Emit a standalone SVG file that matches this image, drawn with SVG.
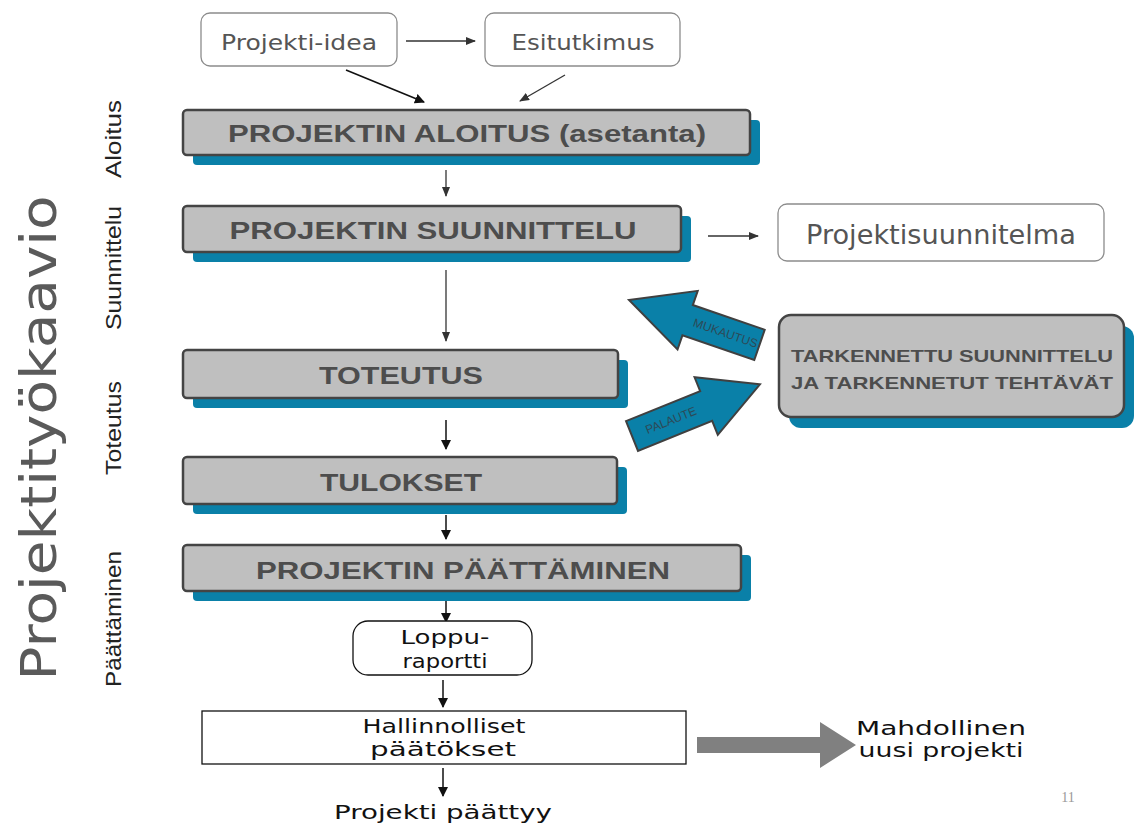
<svg xmlns="http://www.w3.org/2000/svg" width="1135" height="825" viewBox="0 0 1135 825">
<style>
.bg{fill:#ffffff}
.box{fill:#bfbfbf;stroke:#444;stroke-width:2.5}
.sh{fill:#0a80a8}
.bt{font-family:"Liberation Sans",Arial,sans-serif;font-weight:bold;fill:#4d4d4d;text-anchor:middle}
.wb{fill:#fff;stroke:#8c8c8c;stroke-width:1.3}
.wt{font-family:"DejaVu Sans","Liberation Sans",sans-serif;fill:#555;text-anchor:middle}
.ct{font-family:"DejaVu Sans","Liberation Sans",sans-serif;fill:#111;text-anchor:middle;font-size:19px}
.side{font-family:"Liberation Sans",Arial,sans-serif;fill:#222;text-anchor:middle}
.ln{stroke:#333;stroke-width:1.3;fill:none;marker-end:url(#ah)}
.lk{stroke:#111;stroke-width:1.5;fill:none;marker-end:url(#ahk)}
.ta{fill:#0a80a8;stroke:#404040;stroke-width:2}
.tl{font-family:"Liberation Sans",Arial,sans-serif;font-size:12px;fill:#2d4a57;text-anchor:middle}
</style>
<defs>
<marker id="ah" markerWidth="10" markerHeight="8" refX="9" refY="4" orient="auto" markerUnits="userSpaceOnUse"><path d="M0,0 L10,4 L0,8 z" fill="#333"/></marker>
<marker id="ahk" markerWidth="10" markerHeight="10" refX="9" refY="5" orient="auto" markerUnits="userSpaceOnUse"><path d="M0,0 L10,5 L0,10 z" fill="#111"/></marker>
</defs>
<rect class="bg" x="0" y="0" width="1135" height="825"/>

<g id="side-labels">
<text x="0" y="0" transform="translate(56,438) rotate(-90)" font-family="'DejaVu Sans','Liberation Sans',sans-serif" font-size="50" fill="#5a5a5a" text-anchor="middle" textLength="485" lengthAdjust="spacingAndGlyphs">Projektityökaavio</text>
<text class="side" transform="translate(121,139) rotate(-90)" font-size="22" textLength="78" lengthAdjust="spacingAndGlyphs">Aloitus</text>
<text class="side" transform="translate(121,268) rotate(-90)" font-size="22" textLength="124" lengthAdjust="spacingAndGlyphs">Suunnittelu</text>
<text class="side" transform="translate(121,428) rotate(-90)" font-size="22" textLength="94" lengthAdjust="spacingAndGlyphs">Toteutus</text>
<text class="side" transform="translate(121,619) rotate(-90)" font-size="22" textLength="136" lengthAdjust="spacingAndGlyphs">Päättäminen</text>
</g>

<g id="connectors">
<line class="ln" x1="406" y1="41" x2="475" y2="41"/>
<line class="lk" x1="346" y1="70" x2="424" y2="102"/>
<line class="ln" x1="565" y1="75" x2="520" y2="101"/>
<line class="ln" x1="446" y1="170" x2="446" y2="196"/>
<line class="ln" x1="708" y1="236" x2="758" y2="236"/>
<line class="ln" x1="446" y1="270" x2="446" y2="341"/>
<line class="lk" x1="446" y1="420" x2="446" y2="449"/>
<line class="lk" x1="446" y1="515" x2="446" y2="539"/>
<line class="lk" x1="446" y1="601" x2="446" y2="622"/>
<line class="lk" x1="443" y1="680" x2="443" y2="707"/>
<line class="lk" x1="443" y1="768" x2="443" y2="796"/>
</g>

<g id="projekti-idea">
<rect class="wb" x="201" y="13" width="196" height="53" rx="9"/>
<text class="wt" x="299" y="50" font-size="22" textLength="156" lengthAdjust="spacingAndGlyphs">Projekti-idea</text>
</g>
<g id="esitutkimus">
<rect class="wb" x="485" y="13" width="195" height="53" rx="9"/>
<text class="wt" x="583" y="50" font-size="22" textLength="143" lengthAdjust="spacingAndGlyphs">Esitutkimus</text>
</g>

<g id="aloitus">
<rect class="sh" x="193" y="120" width="567" height="45" rx="4"/>
<rect class="box" x="183" y="110" width="567" height="45" rx="4"/>
<text class="bt" x="467" y="142" font-size="24" textLength="478" lengthAdjust="spacingAndGlyphs">PROJEKTIN ALOITUS (asetanta)</text>
</g>

<g id="suunnittelu">
<rect class="sh" x="193" y="216" width="498" height="46" rx="4"/>
<rect class="box" x="183" y="206" width="498" height="46" rx="4"/>
<text class="bt" x="433" y="239" font-size="24" textLength="407" lengthAdjust="spacingAndGlyphs">PROJEKTIN SUUNNITTELU</text>
</g>

<g id="projektisuunnitelma">
<rect class="wb" x="778" y="204" width="326" height="57" rx="9"/>
<text class="wt" x="941" y="244" font-size="26" textLength="270" lengthAdjust="spacingAndGlyphs">Projektisuunnitelma</text>
</g>

<g id="toteutus">
<rect class="sh" x="193" y="360" width="435" height="48" rx="4"/>
<rect class="box" x="183" y="350" width="435" height="48" rx="4"/>
<text class="bt" x="401" y="384" font-size="24" textLength="164" lengthAdjust="spacingAndGlyphs">TOTEUTUS</text>
</g>

<g id="tulokset">
<rect class="sh" x="193" y="467" width="434" height="47" rx="4"/>
<rect class="box" x="183" y="457" width="434" height="47" rx="4"/>
<text class="bt" x="401" y="491" font-size="24" textLength="162" lengthAdjust="spacingAndGlyphs">TULOKSET</text>
</g>

<g id="paattaminen">
<rect class="sh" x="193" y="555" width="558" height="46" rx="4"/>
<rect class="box" x="183" y="545" width="558" height="46" rx="4"/>
<text class="bt" x="463" y="579" font-size="24" textLength="414" lengthAdjust="spacingAndGlyphs">PROJEKTIN PÄÄTTÄMINEN</text>
</g>

<g id="tarkennettu">
<rect class="sh" x="789" y="326" width="345" height="102" rx="12"/>
<rect class="box" x="779" y="315" width="345" height="102" rx="12"/>
<text class="bt" x="952" y="362" font-size="17" textLength="322" lengthAdjust="spacingAndGlyphs">TARKENNETTU SUUNNITTELU</text>
<text class="bt" x="952" y="389" font-size="17" textLength="322" lengthAdjust="spacingAndGlyphs">JA TARKENNETUT TEHTÄVÄT</text>
</g>

<g id="mukautus">
<g transform="translate(629,300) rotate(19)">
<polygon class="ta" points="0,0 62,-31 62,-16 138,-16 138,16 62,16 62,31"/>
<text class="tl" x="102" y="4">MUKAUTUS</text>
</g>
</g>

<g id="palaute">
<g transform="translate(632,436) rotate(-22)">
<polygon class="ta" points="0,-16 80,-16 80,-31 138,0 80,31 80,16 0,16"/>
<text class="tl" x="42" y="4">PALAUTE</text>
</g>
</g>

<g id="loppuraportti">
<rect x="353" y="621" width="179" height="54" rx="15" fill="#fff" stroke="#111" stroke-width="1.3"/>
<text class="ct" x="445" y="644" textLength="89" lengthAdjust="spacingAndGlyphs">Loppu-</text>
<text class="ct" x="445" y="668" textLength="85" lengthAdjust="spacingAndGlyphs">raportti</text>
</g>

<g id="hallinnolliset">
<rect x="202" y="711" width="484" height="53" fill="#fff" stroke="#111" stroke-width="1.3"/>
<text class="ct" x="444" y="733" textLength="163" lengthAdjust="spacingAndGlyphs">Hallinnolliset</text>
<text class="ct" x="443" y="756" textLength="146" lengthAdjust="spacingAndGlyphs">päätökset</text>
</g>

<g id="uusi-projekti">
<polygon points="697,737 820,737 820,722 856,745 820,768 820,753 697,753" fill="#808080"/>
<text class="ct" x="941" y="735" font-size="18" textLength="170" lengthAdjust="spacingAndGlyphs">Mahdollinen</text>
<text class="ct" x="941" y="757" font-size="18" textLength="165" lengthAdjust="spacingAndGlyphs">uusi projekti</text>
</g>

<g id="paattyy">
<text class="ct" x="443" y="819" textLength="218" lengthAdjust="spacingAndGlyphs">Projekti päättyy</text>
</g>

<text x="1068" y="802" font-family="'Liberation Serif',serif" font-size="14" fill="#999" text-anchor="middle">11</text>
</svg>
